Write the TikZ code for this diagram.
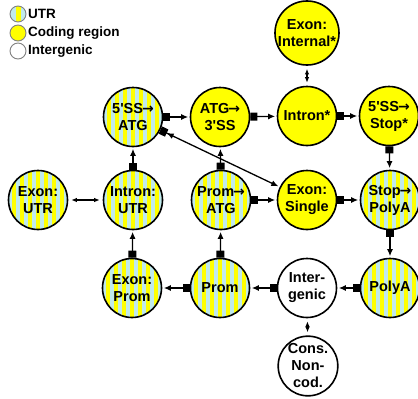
\documentclass[tikz,border=0pt]{standalone}
\usepackage{fontspec}
\setmainfont{Liberation Sans}
\newfontfamily\arrfont{DejaVu Sans}
\usetikzlibrary{arrows.meta}
\definecolor{cyel}{RGB}{255,255,0}
\definecolor{ublue}{RGB}{192,234,236}
\newcommand{\rar}{{\arrfont\fontsize{14}{14}\selectfont\kern-1pt→}}
\newcommand{\apo}{\textquotesingle}
\tikzset{
  st/.style={circle, draw=black, line width=1.6pt, minimum size=59pt, inner sep=0pt,
    align=center, font=\fontsize{14.5}{17}\selectfont\bfseries},
  coding/.style={st, fill=cyel},
  utr/.style={st, fill=cyel, path picture={
    \foreach \k in {-38,-30,...,38}{
      \fill[ublue] ([xshift=\k pt]path picture bounding box.north) rectangle
                   ([xshift=\k pt+4pt]path picture bounding box.south);}}},
  inter/.style={st, fill=white},
  conn/.style={line width=1.3pt, shorten >=1.5pt,
    {Square[length=7pt,width=8pt]}-{Latex[length=7pt,width=6pt]}},
  dconn/.style={line width=1.3pt, shorten >=1.5pt,
    {Square[length=7pt,width=8pt]Latex[length=7pt,width=6pt]}-{Latex[length=7pt,width=6pt]}},
  dbl/.style={line width=1.1pt, shorten >=3pt, shorten <=3pt,
    {Latex[length=5.5pt,width=4.5pt]}-{Latex[length=5.5pt,width=4.5pt]}},
  legc/.style={circle, draw=gray, line width=0.9pt, minimum size=16pt, inner sep=0pt},
  legt/.style={anchor=west, inner sep=0pt, font=\fontsize{13.5}{14}\selectfont\bfseries}
}
\begin{document}
\begin{tikzpicture}[x=1pt, y=-1pt]
\useasboundingbox (0,0) rectangle (418,399);
% legend
\node[legc, fill=ublue, path picture={\fill[cyel] ([xshift=-2.5pt]path picture bounding box.north) rectangle ([xshift=2.5pt]path picture bounding box.south);}] (l1) at (18,14) {};
\node[legc, fill=cyel] (l2) at (18,33) {};
\node[legc, fill=white] (l3) at (18,51) {};
\node[legt] (t1) at (28,14) {UTR};
\node[legt] (t2) at (28,33) {Coding region};
\node[legt] (t3) at (28,51) {Intergenic};
% nodes
\node[coding] (EI) at (307,33) {Exon:\\Internal*};
\node[utr] (SA) at (133,117) {5\apo SS\rar\\ATG};
\node[coding] (A3) at (220,117) {ATG\rar\\3\apo SS};
\node[coding] (IN) at (307,116) {Intron*};
\node[coding] (SS) at (389,116) {5\apo SS\rar\\Stop*};
\node[utr] (EU) at (38,200) {Exon:\\UTR};
\node[utr] (IU) at (133,200) {Intron:\\UTR};
\node[utr] (PA) at (221,200) {Prom\rar\\ATG};
\node[coding] (ES) at (307,200) {Exon:\\Single};
\node[utr] (SP) at (390,200) {Stop\rar\\PolyA};
\node[utr] (EP) at (132,288) {Exon:\\Prom};
\node[utr] (PR) at (220,288) {Prom};
\node[inter] (IG) at (307,288) {Inter-\\genic};
\node[utr] (PO) at (390,288) {PolyA};
\node[inter] (CN) at (308,366) {Cons.\\Non-\\cod.};
% connectors
\draw[conn] (SA) -- (A3);
\draw[conn] (A3) -- (IN);
\draw[conn] (IN) -- (SS);
\draw[dbl] (EI) -- (IN);
\draw[conn] (SS) -- (SP);
\draw[conn] (IU) -- (SA);
\draw[conn] (PA) -- (A3);
\draw[dbl] (EU) -- (IU);
\draw[conn] (PA) -- (ES);
\draw[conn] (ES) -- (SP);
\draw[conn] (SP) -- (PO);
\draw[dconn] (SA) -- (ES);
\draw[conn] (PR) -- (EP);
\draw[conn] (IG) -- (PR);
\draw[conn] (PO) -- (IG);
\draw[dbl] (IG) -- (CN);
\draw[conn] (EP) -- (IU);
\draw[conn] (PR) -- (PA);
\end{tikzpicture}
\end{document}
